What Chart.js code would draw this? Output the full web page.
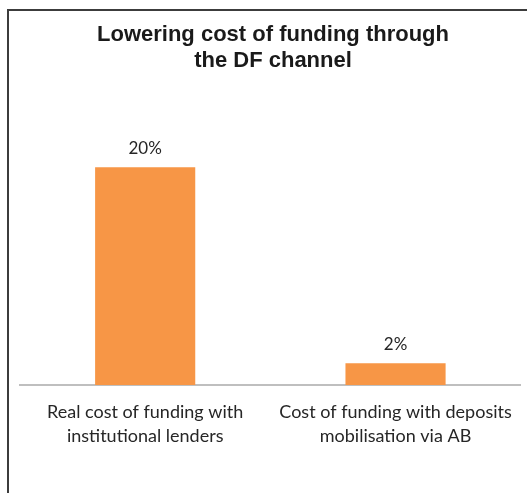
<!DOCTYPE html>
<html>
<head>
<meta charset="utf-8">
<script src="https://cdn.jsdelivr.net/npm/chart.js@4"></script>
<style>
  html, body { margin: 0; padding: 0; background: #fff; }
  #frame {
    position: absolute; left: 7px; top: 9px; width: 600px; height: 600px;
    border-left: 2px solid #3c3c3c; border-top: 2px solid #3c3c3c;
  }
  #costChart { position: absolute; left: 0; top: 0; }
</style>
</head>
<body>
<div id="frame"></div>
<canvas id="costChart" width="527" height="493"></canvas>
<script>
const categories = [
    ["Real cost of funding with", "institutional lenders"],
    ["Cost of funding with deposits", "mobilisation via AB"]
];
const costValues = [20, 2];
const chartTitle = ["Lowering cost of funding through", "the DF channel"];

// simple value labels above the bars
const barLabels = {
    id: "barLabels",
    afterDatasetsDraw(chart) {
        const ctx = chart.ctx;
        const meta = chart.getDatasetMeta(0);
        ctx.save();
        ctx.font = "17px Lato";
        ctx.fillStyle = "#262626";
        ctx.textAlign = "center";
        ctx.textBaseline = "middle";
        meta.data.forEach((bar, i) => {
            ctx.fillText(costValues[i] + "%", bar.x, bar.y - 19);
        });
        ctx.restore();
    }
};

new Chart(document.getElementById("costChart"), {
    type: "bar",
    data: {
        labels: categories,
        datasets: [{
            data: costValues,
            backgroundColor: "#f79646",
            borderWidth: 0,
            barPercentage: 0.4,
            categoryPercentage: 1.0
        }]
    },
    options: {
        responsive: false,
        animation: false,
        layout: { padding: { left: 20, right: 1, top: 0, bottom: 30 } },
        plugins: {
            title: {
                display: true,
                text: chartTitle,
                font: { family: "'Liberation Sans'", size: 22, weight: "bold", lineHeight: 1.18 },
                color: "#1a1a1a",
                padding: { top: 22, bottom: 39 }
            },
            legend: { display: false },
            tooltip: { enabled: false }
        },
        scales: {
            x: {
                grid: { display: false, drawTicks: false },
                border: { display: true, color: "#bfbfbf", width: 2 },
                ticks: {
                    color: "#262626",
                    padding: 15,
                    font: { family: "Lato", size: 18, lineHeight: 1.333 }
                }
            },
            y: {
                display: false,
                min: 0,
                max: 25
            }
        }
    },
    plugins: [barLabels]
});
</script>
</body>
</html>
